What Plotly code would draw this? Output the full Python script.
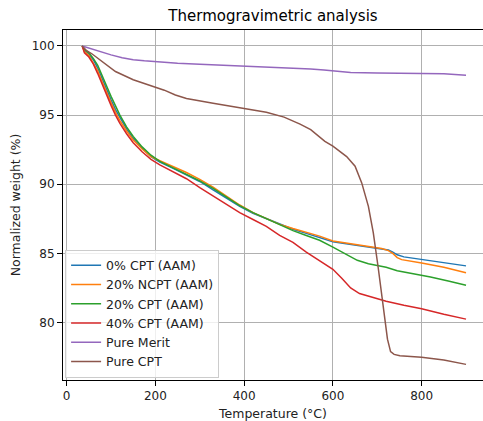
import plotly.graph_objects as go

# ---- data ----
t_blue = [35, 40, 50, 60, 70, 80, 90, 100, 110, 120, 135, 150, 170, 190, 210, 240, 270, 300, 330, 360, 390, 420, 450, 480, 510, 540, 570, 600, 630, 660, 690, 710, 725, 735, 745, 760, 800, 850, 900]
w_blue = [100.0, 99.7, 99.4, 99.0, 98.4, 97.6, 96.8, 96.1, 95.4, 94.8, 94.0, 93.3, 92.6, 92.0, 91.6, 91.15, 90.7, 90.2, 89.6, 89.0, 88.4, 87.9, 87.5, 87.1, 86.75, 86.45, 86.15, 85.85, 85.7, 85.55, 85.45, 85.35, 85.25, 85.1, 84.9, 84.75, 84.55, 84.3, 84.1]

t_orange = [35, 40, 50, 60, 70, 80, 90, 100, 110, 120, 135, 150, 170, 190, 210, 240, 270, 300, 330, 360, 390, 420, 450, 480, 510, 540, 570, 600, 630, 660, 690, 710, 725, 735, 745, 755, 800, 850, 900]
w_orange = [100.0, 99.6, 99.3, 98.8, 98.2, 97.4, 96.6, 95.9, 95.2, 94.6, 93.85, 93.2, 92.55, 92.0, 91.7, 91.3, 90.85, 90.35, 89.8, 89.15, 88.5, 87.95, 87.5, 87.1, 86.8, 86.55, 86.25, 85.9, 85.75, 85.6, 85.45, 85.35, 85.2, 85.0, 84.7, 84.55, 84.3, 84.0, 83.6]

t_green = [35, 40, 50, 60, 70, 80, 90, 100, 110, 120, 135, 150, 170, 190, 210, 240, 270, 300, 330, 360, 390, 420, 450, 480, 510, 540, 570, 600, 630, 655, 680, 700, 720, 745, 780, 820, 860, 900]
w_green = [100.0, 99.75, 99.5, 99.1, 98.6, 97.9, 97.1, 96.35, 95.65, 95.0, 94.15, 93.45, 92.7, 92.1, 91.65, 91.2, 90.75, 90.25, 89.7, 89.1, 88.45, 87.95, 87.5, 87.05, 86.65, 86.3, 85.95, 85.45, 84.95, 84.5, 84.25, 84.15, 84.0, 83.75, 83.55, 83.3, 83.0, 82.7]

t_red = [35, 40, 50, 60, 70, 80, 90, 100, 110, 120, 135, 150, 170, 190, 210, 240, 270, 300, 330, 360, 390, 420, 450, 480, 510, 540, 570, 600, 620, 640, 660, 680, 700, 720, 760, 800, 850, 900]
w_red = [100.0, 99.5, 99.2, 98.7, 98.0, 97.2, 96.4, 95.7, 95.0, 94.4, 93.65, 93.0, 92.35, 91.8, 91.4, 90.9, 90.4, 89.75, 89.15, 88.55, 87.95, 87.45, 86.95, 86.3, 85.8, 85.1, 84.5, 83.85, 83.2, 82.5, 82.1, 81.9, 81.75, 81.55, 81.25, 81.0, 80.6, 80.25]

t_merit = [35, 50, 75, 100, 125, 150, 175, 200, 250, 300, 350, 400, 450, 500, 550, 580, 610, 640, 700, 800, 850, 900]
w_merit = [100.0, 99.85, 99.55, 99.35, 99.15, 99.0, 98.92, 98.85, 98.75, 98.68, 98.62, 98.56, 98.48, 98.42, 98.33, 98.25, 98.15, 98.08, 98.05, 98.02, 97.98, 97.88]

t_cpt = [35, 45, 56, 75, 95, 110, 150, 185, 220, 245, 270, 330, 400, 450, 490, 526, 550, 582, 600, 631, 650, 665, 680, 691, 702, 714, 723, 730, 738, 751, 800, 850, 900]
w_cpt = [100.0, 99.65, 99.45, 99.0, 98.55, 98.15, 97.55, 97.15, 96.8, 96.45, 96.2, 95.85, 95.48, 95.2, 94.85, 94.35, 93.95, 93.1, 92.75, 92.0, 91.3, 90.1, 88.4, 86.5, 84.0, 81.1, 78.8, 77.9, 77.7, 77.6, 77.5, 77.3, 76.98]

series = [
    ("0% CPT (AAM)", t_blue, w_blue, "#1f77b4"),
    ("20% NCPT (AAM)", t_orange, w_orange, "#ff7f0e"),
    ("20% CPT (AAM)", t_green, w_green, "#2ca02c"),
    ("40% CPT (AAM)", t_red, w_red, "#d62728"),
    ("Pure Merit", t_merit, w_merit, "#9467bd"),
    ("Pure CPT", t_cpt, w_cpt, "#8c564b"),
]

fig = go.Figure()
for name, t, w, c in series:
    fig.add_trace(go.Scatter(x=t, y=w, mode="lines", name=name,
                             line=dict(color=c, width=1.5)))

font = "DejaVu Sans, sans-serif"
fig.update_layout(
    width=483, height=421,
    margin=dict(l=63, r=0, t=30, b=41),
    paper_bgcolor="white", plot_bgcolor="white",
    font=dict(family=font, size=12.5, color="#222222"),
    title=dict(text="Thermogravimetric analysis", x=0.5, xref="paper",
               y=1 - 16 / 421, yref="container", yanchor="middle",
               xanchor="center", font=dict(size=15, color="black")),
    showlegend=True,
    legend=dict(x=0.005, y=0.0065, xanchor="left", yanchor="bottom",
                bgcolor="rgba(255,255,255,0.8)", bordercolor="#cccccc",
                borderwidth=1, font=dict(size=12.5, color="#222222")),
)
fig.update_xaxes(range=[-8.25, 938.3], tickvals=[0, 200, 400, 600, 800],
                 showgrid=True, gridcolor="#b0b0b0", gridwidth=0.8,
                 showline=True, linecolor="black", linewidth=1, mirror=True,
                 ticks="outside", ticklen=5, tickcolor="black",
                 zeroline=False, tickfont=dict(size=12),
                 title=dict(text="Temperature (°C)", standoff=6,
                            font=dict(size=12.5, color="#222222")))
fig.update_yaxes(range=[75.85, 101.15], tickvals=[80, 85, 90, 95, 100],
                 showgrid=True, gridcolor="#b0b0b0", gridwidth=0.8,
                 showline=True, linecolor="black", linewidth=1, mirror=False,
                 ticks="outside", ticklen=5, tickcolor="black",
                 zeroline=False, tickfont=dict(size=12),
                 title=dict(text="Normalized weight (%)", standoff=8,
                            font=dict(size=12.5, color="#222222")))

fig.write_html("out.html")
